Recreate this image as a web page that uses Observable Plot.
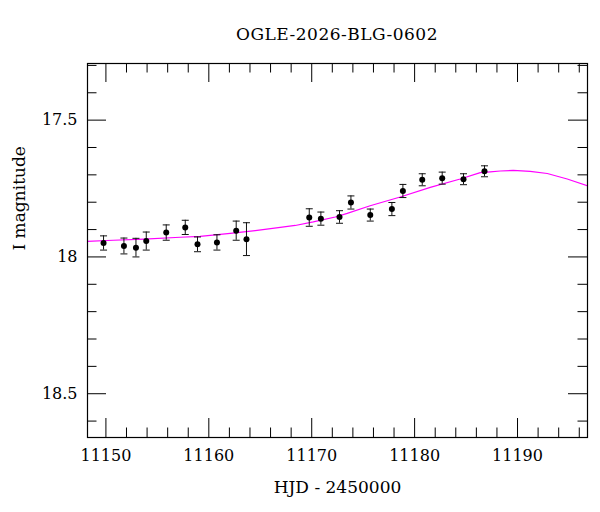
<!DOCTYPE html>
<html>
<head>
<meta charset="utf-8">
<script src="https://cdn.jsdelivr.net/npm/d3@7"></script>
<script src="https://cdn.jsdelivr.net/npm/@observablehq/plot@0.6"></script>
<style>
  body { margin: 0; background: #fff; }
  #title {
    font-family: "DejaVu Serif", serif;
    font-size: 17px;
    line-height: 17px;
    height: 17px;
    padding-top: 26px;
    margin-left: 87px;
    width: 500px;
    text-align: center;
    letter-spacing: 0.5px;
    color: #000;
  }
</style>
</head>
<body>
<div id="title">OGLE-2026-BLG-0602</div>
<div id="chart"></div>
<script>
// Photometry: epoch (HJD - 2450000), I-band magnitude, 1-sigma error
const obsHjd = [11149.77, 11151.75, 11152.92, 11153.92, 11155.86, 11157.71, 11158.90, 11160.79, 11162.66, 11163.66,
                11169.76, 11170.89, 11172.70, 11173.81, 11175.69, 11177.79, 11178.86, 11180.74, 11182.68, 11184.75, 11186.79];
const obsMag = [17.949, 17.960, 17.966, 17.942, 17.911, 17.892, 17.954, 17.947, 17.904, 17.935,
                17.856, 17.860, 17.854, 17.801, 17.847, 17.825, 17.759, 17.718, 17.712, 17.716, 17.687];
const obsErr = [0.026, 0.029, 0.034, 0.033, 0.028, 0.026, 0.027, 0.028, 0.035, 0.060,
                0.032, 0.024, 0.023, 0.024, 0.022, 0.024, 0.024, 0.022, 0.022, 0.020, 0.020];

// Model light curve
const modelHjd = [11148.18, 11150.71, 11153.72, 11157.22, 11159.16, 11162.08, 11164.51, 11166.94, 11168.40, 11170.15,
                  11172.29, 11173.45, 11175.68, 11178.60, 11181.52, 11184.43, 11186.38, 11187.35, 11188.32, 11189.58,
                  11191.23, 11192.89, 11194.83, 11196.80];
const modelMag = [17.943, 17.939, 17.935, 17.928, 17.925, 17.914, 17.904, 17.892, 17.885, 17.872,
                  17.854, 17.841, 17.813, 17.781, 17.746, 17.715, 17.692, 17.689, 17.686, 17.684,
                  17.687, 17.695, 17.715, 17.740];

// Axis ticks
const xMajorTicks = [11150, 11160, 11170, 11180, 11190];
const xMinorTicks = [11152, 11154, 11156, 11158, 11162, 11164, 11166, 11168, 11172, 11174, 11176, 11178,
                     11182, 11184, 11186, 11188, 11192, 11194, 11196];
const yMajorTicks = [17.5, 18, 18.5];
const yMinorTicks = [17.3, 17.4, 17.6, 17.7, 17.8, 17.9, 18.1, 18.2, 18.3, 18.4, 18.6];

const obs = obsHjd.map((t, i) => ({t, mag: obsMag[i], err: obsErr[i]}));
const model = modelHjd.map((t, i) => ({t, mag: modelMag[i]}));

const W = 600, H = 469, mt = 20, mb = 75, ml = 87, mr = 13;
const fh = H - mt - mb, fw = W - ml - mr;
const majorLen = 19, minorLen = 9.5;
const serif = '"DejaVu Serif", serif';

// short horizontal bar used as error-bar cap
const cap = {draw(ctx) { ctx.moveTo(-3.5, 0); ctx.lineTo(3.5, 0); }};

const chart = Plot.plot({
  width: W,
  height: H,
  marginTop: mt,
  marginBottom: mb,
  marginLeft: ml,
  marginRight: mr,
  style: {fontFamily: serif, fontSize: "16px", color: "black", background: "white"},
  x: {domain: [11148.21, 11196.80]},
  y: {domain: [17.293, 18.66], reverse: true},
  marks: [
    Plot.line(model, {x: "t", y: "mag", stroke: "#ff00ff", strokeWidth: 1.2, clip: true}),
    Plot.ruleX(obs, {x: "t", y1: d => d.mag - d.err, y2: d => d.mag + d.err, stroke: "#111", strokeWidth: 1}),
    Plot.dot(obs, {x: "t", y: d => d.mag - d.err, symbol: cap, fill: "none", stroke: "#111", strokeWidth: 1}),
    Plot.dot(obs, {x: "t", y: d => d.mag + d.err, symbol: cap, fill: "none", stroke: "#111", strokeWidth: 1}),
    Plot.dot(obs, {x: "t", y: "mag", r: 3, fill: "black", stroke: "none"}),

    // inward ticks on all four sides
    Plot.tickX(xMajorTicks, {x: d => d, insetTop: fh - majorLen, stroke: "black"}),
    Plot.tickX(xMajorTicks, {x: d => d, insetBottom: fh - majorLen, stroke: "black"}),
    Plot.tickX(xMinorTicks, {x: d => d, insetTop: fh - minorLen, stroke: "black"}),
    Plot.tickX(xMinorTicks, {x: d => d, insetBottom: fh - minorLen, stroke: "black"}),
    Plot.tickY(yMajorTicks, {y: d => d, insetRight: fw - majorLen, stroke: "black"}),
    Plot.tickY(yMajorTicks, {y: d => d, insetLeft: fw - majorLen, stroke: "black"}),
    Plot.tickY(yMinorTicks, {y: d => d, insetRight: fw - minorLen, stroke: "black"}),
    Plot.tickY(yMinorTicks, {y: d => d, insetLeft: fw - minorLen, stroke: "black"}),

    Plot.axisX(xMajorTicks, {tickSize: 0, tickPadding: 12, label: null, fontSize: 16, tickFormat: d => String(d)}),
    Plot.axisY(yMajorTicks, {tickSize: 0, tickPadding: 10, label: null, fontSize: 16, tickFormat: d => String(d)}),
    Plot.frame({stroke: "black", strokeWidth: 1.2}),

    Plot.text(["HJD - 2450000"], {text: d => d, frameAnchor: "bottom", dy: 55, lineAnchor: "bottom", fontSize: 17, fill: "black"}),
    Plot.text(["I magnitude"], {text: d => d, frameAnchor: "left", dx: -68, rotate: -90, fontSize: 17, fill: "black"})
  ]
});

document.getElementById("chart").appendChild(chart);
</script>
</body>
</html>
